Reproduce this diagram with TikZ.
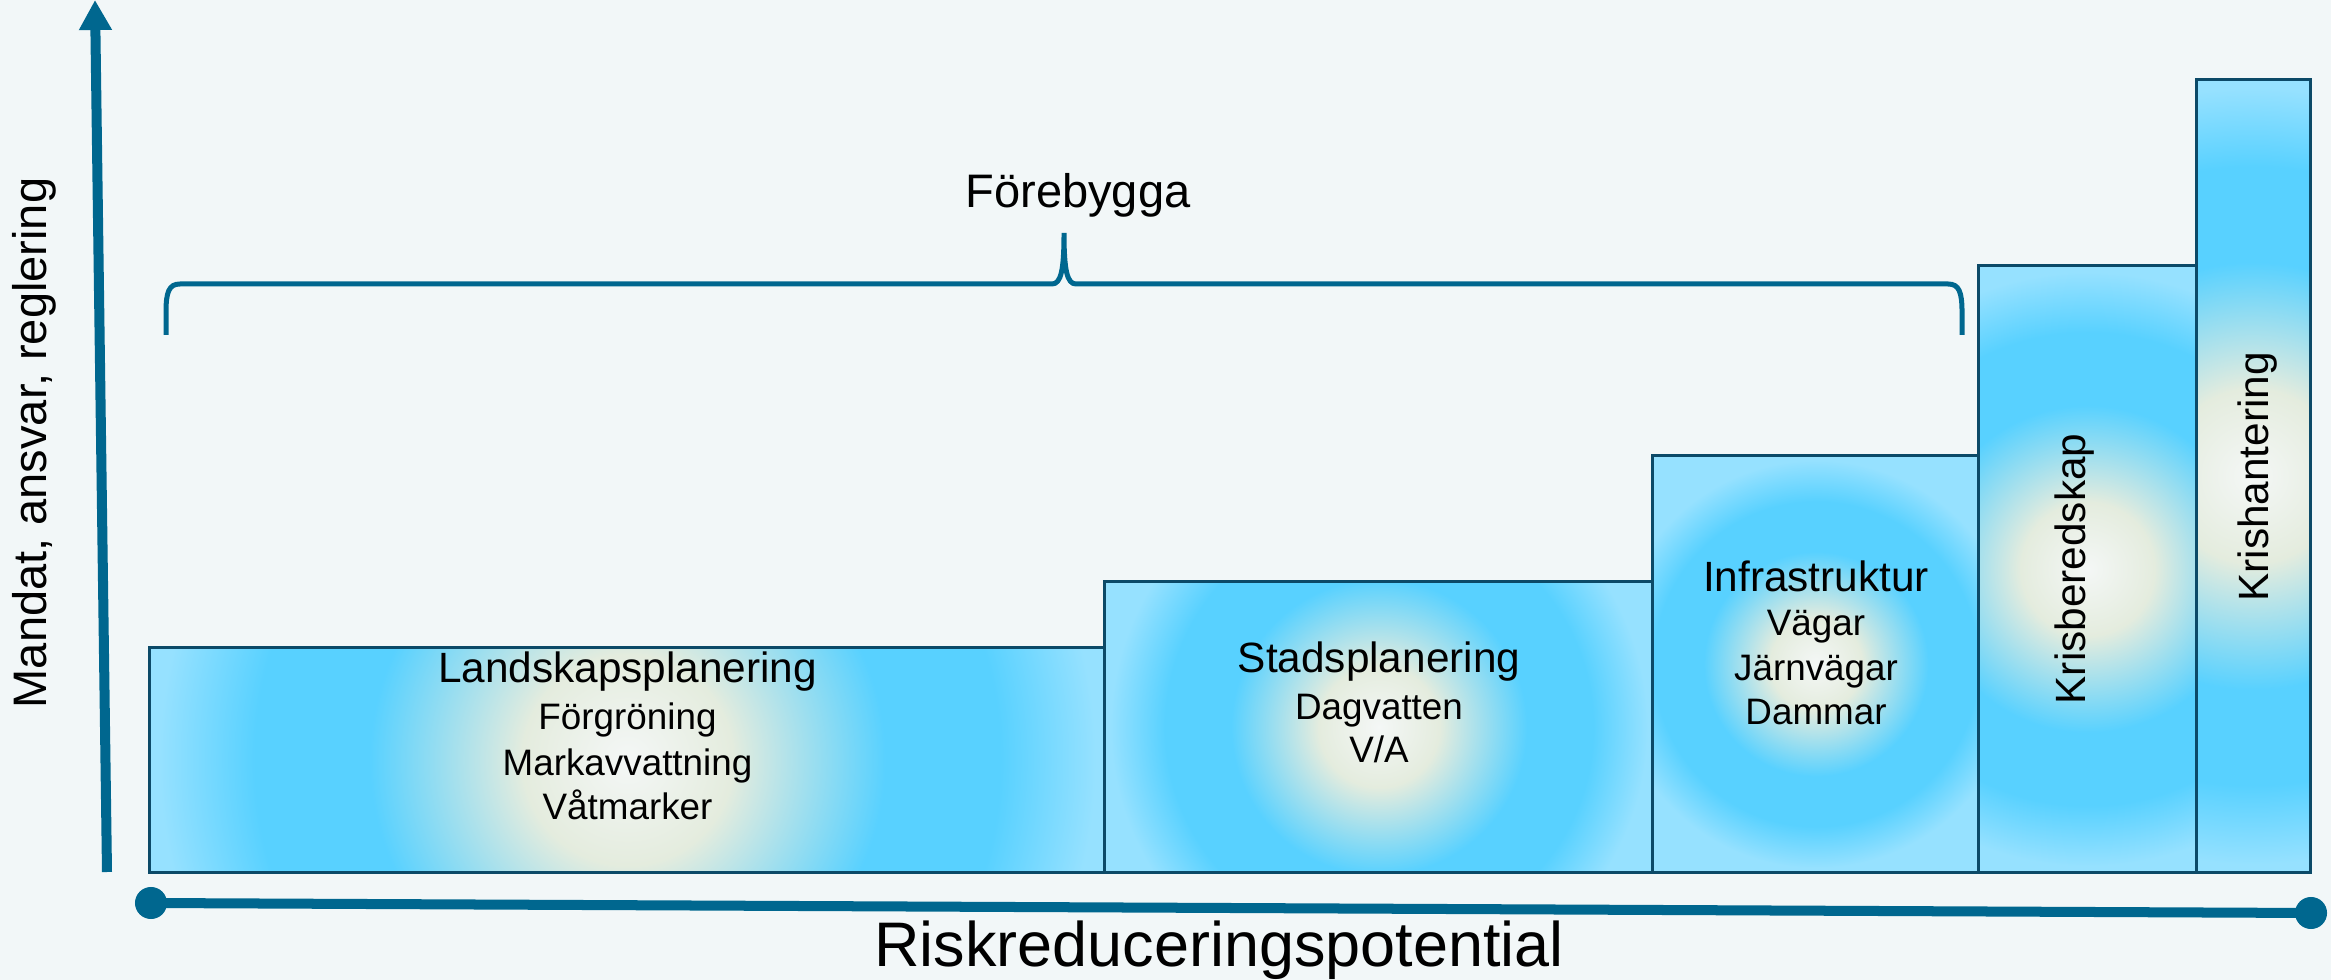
\documentclass[tikz,border=0pt]{standalone}
\usepackage{fontspec}
\setmainfont{Liberation Sans}
\usetikzlibrary{arrows.meta}
\definecolor{bg}{RGB}{242,247,248}
\definecolor{axis}{RGB}{0,103,143}
\definecolor{boxline}{RGB}{12,74,104}
\definecolor{gczero}{RGB}{244,247,246}
\definecolor{gcone}{RGB}{228,236,222}
\definecolor{gblue}{RGB}{88,209,255}
\definecolor{glight}{RGB}{150,225,255}
% pgf maps 25bp of a shading to the half size of the shaded path
\pgfdeclareradialshading{boxshade}{\pgfpoint{0bp}{0bp}}{color(0bp)=(gczero); color(5.5bp)=(gcone); color(13.5bp)=(gblue); color(19.5bp)=(gblue); color(24.5bp)=(glight); color(50bp)=(glight)}
\begin{document}
\begin{tikzpicture}[x=0.01cm, y=-0.01cm,
  box/.style={draw=boxline, line width=0.03cm, inner sep=0, outer sep=0,
    path picture={\shade[shading=boxshade] ([shift={(-#1,-#1)}]path picture bounding box.center) rectangle ([shift={(#1,#1)}]path picture bounding box.center);}},
  title/.style={font=\fontsize{12.04}{14}\selectfont, anchor=base, inner sep=0},
  sub/.style={font=\fontsize{10.47}{12}\selectfont, anchor=base, inner sep=0},
  axlabel/.style={font=\fontsize{13.37}{16}\selectfont, anchor=base, inner sep=0},
  axisline/.style={draw=axis, line width=0.1cm},
  dot/.style={circle, fill=axis, minimum size=0.32cm, inner sep=0},
  bracestyle/.style={draw=axis, line width=0.05cm, line cap=butt}
]
\fill[bg] (0,0) rectangle (2331,980);
\useasboundingbox (0,0) rectangle (2331,980);

% boxes
\node[box=477.5, minimum width=9.55cm, minimum height=2.24cm] (b1) at (627.5,760) {};
\node[box=274, minimum width=5.48cm, minimum height=2.90cm] (b2) at (1379,727) {};
\node[box=208, minimum width=3.26cm, minimum height=4.16cm] (b3) at (1816,664) {};
\node[box=303, minimum width=2.17cm, minimum height=6.06cm] (b4) at (2087.5,569) {};
\node[box=396, minimum width=1.14cm, minimum height=7.92cm] (b5) at (2253,476) {};

% box texts
\node[title] (t1) at (627.5,683) {Landskapsplanering};
\node[sub] (t1a) at (627.5,730) {Förgröning};
\node[sub] (t1b) at (627.5,775) {Markavvattning};
\node[sub] (t1c) at (627.5,820) {Våtmarker};

\node[title] (t2) at (1379,673) {Stadsplanering};
\node[sub] (t2a) at (1379,719) {Dagvatten};
\node[sub] (t2b) at (1379,763) {V/A};

\node[title] (t3) at (1816,592) {Infrastruktur};
\node[sub] (t3a) at (1816,636) {Vägar};
\node[sub] (t3b) at (1816,681) {Järnvägar};
\node[sub] (t3c) at (1816,725) {Dammar};

\node[title, rotate=90] (t4) at (2085,569) {Krisberedskap};
\node[title, rotate=90] (t5) at (2268,477) {Krishantering};

% axes
\coordinate (yb) at (107,872);
\coordinate (yt) at (95,0);
\draw[axisline, -{Triangle[length=0.3cm,width=0.31cm]}] (yb) -- (yt);
\node[dot] (xl) at (151,903) {};
\node[dot] (xr) at (2311,913) {};
\draw[axisline] (xl.center) -- (xr.center);

\node[axlabel, rotate=90] (ylab) at (47,443) {Mandat, ansvar, reglering};
\node[axlabel, font=\fontsize{17.9}{20}\selectfont] (xlab) at (1219,966) {Riskreduceringspotential};

% brace
\draw[bracestyle] (166,335) -- (166,312) .. controls (166,292) and (169,284) .. (180,284)
  -- (1052,284) .. controls (1061,284) and (1064,270) .. (1064,233)
  .. controls (1064,270) and (1067,284) .. (1076,284)
  -- (1948,284) .. controls (1959,284) and (1962,292) .. (1962,312) -- (1962,335);
\node[axlabel] (fb) at (1078,208) {Förebygga};
\end{tikzpicture}
\end{document}
